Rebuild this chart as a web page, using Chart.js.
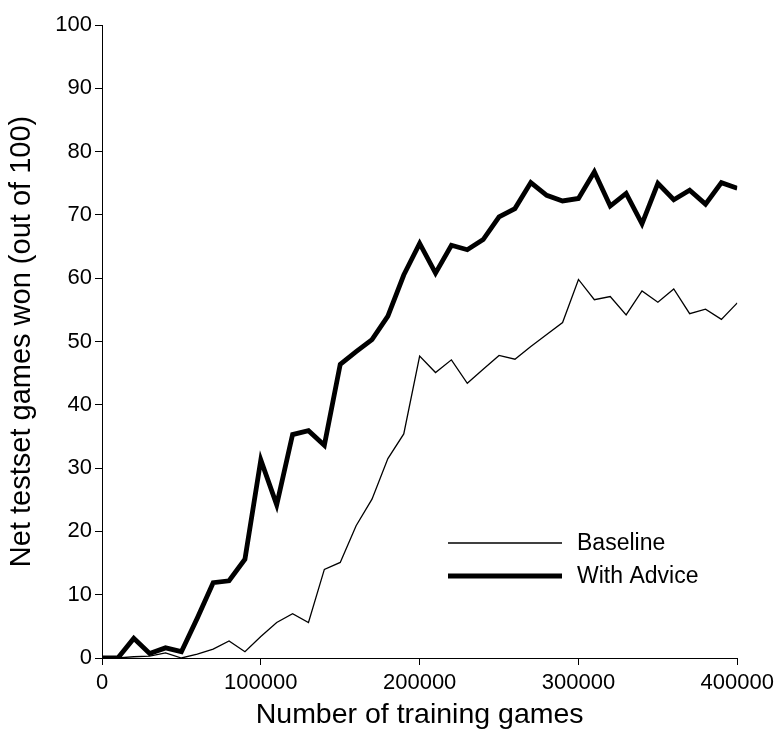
<!DOCTYPE html>
<html>
<head>
<meta charset="utf-8">
<script src="https://cdn.jsdelivr.net/npm/chart.js@4"></script>
<style>
  html, body { margin: 0; padding: 0; background: #fff; }
  #wrap { width: 779px; height: 732px; position: relative; }
</style>
</head>
<body>
<div id="wrap"><canvas id="c" width="779" height="732"></canvas></div>
<script>
const games = [0,10000,20000,30000,40000,50000,60000,70000,80000,90000,
  100000,110000,120000,130000,140000,150000,160000,170000,180000,190000,
  200000,210000,220000,230000,240000,250000,260000,270000,280000,290000,
  300000,310000,320000,330000,340000,350000,360000,370000,380000,390000,400000];
const baseline = [0,0,0.2,0.3,0.8,0,0.6,1.4,2.7,1.0,
  3.4,5.6,7.0,5.6,14.0,15.1,20.9,25.1,31.5,35.4,
  47.7,45.1,47.1,43.4,45.6,47.8,47.2,49.2,51.1,53.0,
  59.8,56.6,57.1,54.2,58.0,56.2,58.3,54.4,55.1,53.5,56.1];
const withAdvice = [0,0,3.1,0.7,1.6,1.0,6.3,11.9,12.2,15.6,
  31.3,24.2,35.3,35.9,33.6,46.4,48.4,50.3,54.0,60.5,
  65.5,60.8,65.2,64.5,66.1,69.7,71.0,75.1,73.1,72.2,
  72.6,76.8,71.4,73.4,68.6,75.0,72.4,73.9,71.7,75.1,74.2];
const seriesNames = ['Baseline', 'With Advice'];
const xTicks = [0, 100000, 200000, 300000, 400000];
const yTicks = [0,10,20,30,40,50,60,70,80,90,100];

const FONT = "'Liberation Sans', Arial, sans-serif";

const legendPlugin = {
  id: 'customLegend',
  afterDatasetsDraw(chart) {
    const ctx = chart.ctx;
    ctx.save();
    const rows = [{y: 543}, {y: 576}];
    chart.data.datasets.forEach((ds, i) => {
      const y = rows[i].y;
      ctx.beginPath();
      ctx.strokeStyle = ds.borderColor;
      ctx.lineWidth = ds.borderWidth;
      ctx.moveTo(448, y);
      ctx.lineTo(562, y);
      ctx.stroke();
      ctx.fillStyle = '#000';
      ctx.font = '23px ' + FONT;
      ctx.textBaseline = 'middle';
      ctx.textAlign = 'left';
      ctx.fillText(ds.label, 577, y + 1);
    });
    ctx.restore();
  }
};

const toPts = (arr) => arr.map((v, i) => ({x: games[i], y: v}));

new Chart(document.getElementById('c'), {
  type: 'line',
  data: {
    datasets: [
      { label: seriesNames[0], data: toPts(baseline), borderColor: '#000', borderWidth: 1.3,
        pointRadius: 0, tension: 0, fill: false },
      { label: seriesNames[1], data: toPts(withAdvice), borderColor: '#000', borderWidth: 4.8,
        pointRadius: 0, tension: 0, fill: false }
    ]
  },
  options: {
    responsive: false,
    animation: false,
    devicePixelRatio: 1,
    layout: { padding: { left: 0, right: 39, top: 25, bottom: 0 } },
    plugins: { legend: { display: false }, tooltip: { enabled: false } },
    scales: {
      x: {
        type: 'linear', min: 0, max: 400000,
        afterBuildTicks(s) { s.ticks = xTicks.map(v => ({value: v})); },
        afterFit(s) { s.height = 74; },
        grid: { drawOnChartArea: false, drawTicks: true, tickLength: 7, color: '#000', lineWidth: 1 },
        border: { display: true, color: '#000', width: 1 },
        ticks: { color: '#000', font: { family: FONT, size: 22 }, padding: 5, maxRotation: 0,
          callback: v => String(v) },
        title: { display: true, text: 'Number of training games', color: '#000',
          font: { family: FONT, size: 28.5 }, padding: { top: 0, bottom: 0 } }
      },
      y: {
        type: 'linear', min: 0, max: 100,
        afterBuildTicks(s) { s.ticks = yTicks.map(v => ({value: v})); },
        afterFit(s) { s.width = 102; },
        grid: { drawOnChartArea: false, drawTicks: true, tickLength: 7, color: '#000', lineWidth: 1 },
        border: { display: true, color: '#000', width: 1 },
        ticks: { color: '#000', font: { family: FONT, size: 22 }, padding: 3,
          callback: v => String(v) },
        title: { display: true, text: 'Net testset games won (out of 100)', color: '#000',
          font: { family: FONT, size: 29 }, padding: { top: 5, bottom: 0 } }
      }
    }
  },
  plugins: [legendPlugin]
});
</script>
</body>
</html>
